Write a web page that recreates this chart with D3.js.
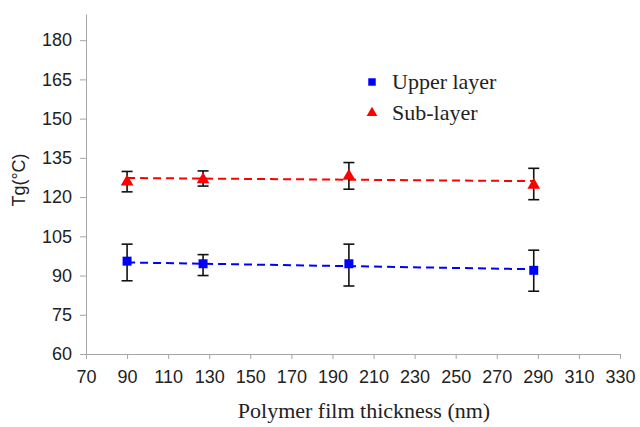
<!DOCTYPE html>
<html>
<head>
<meta charset="utf-8">
<script src="https://cdn.jsdelivr.net/npm/d3@7"></script>
<style>
  body { margin: 0; background: #fff; }
  .axis path, .axis line { stroke: #a6a6a6; }
  .axis text { font-family: "Liberation Sans", Arial, sans-serif; font-size: 18px; fill: #222; }
</style>
</head>
<body>
<script>
// thickness (nm)
var thickness = [90, 127, 198, 288];
// upper layer Tg and error bar ends
var upperTg   = [95.5, 94.5, 94.5, 92.0];
var upperHigh = [102, 98, 102, 99.7];
var upperLow  = [88, 90, 86, 84];
// sub-layer Tg and error bar ends
var subTg   = [125.8, 126.7, 128.0, 124.6];
var subHigh = [129.8, 130.0, 133.2, 131.0];
var subLow  = [122.0, 124.2, 123.0, 119.0];
// dashed trend lines, value at first and last thickness
var trendX     = [90, 288];
var upperTrend = [95.0, 92.4];
var subTrend   = [127.3, 126.1];

var xTicks = [70, 90, 110, 130, 150, 170, 190, 210, 230, 250, 270, 290, 310, 330];
var yTicks = [60, 75, 90, 105, 120, 135, 150, 165, 180];

var W = 640, H = 427;
var svg = d3.select("body").append("svg")
  .attr("width", W)
  .attr("height", H);

// setup scales
var x = d3.scaleLinear().domain([70, 330]).range([86, 620]);
var y = d3.scaleLinear().domain([60, 190]).range([354, 14]);

// x-axis
svg.append("g")
  .attr("class", "axis")
  .attr("transform", "translate(0," + y(60) + ")")
  .call(d3.axisBottom(x).tickValues(xTicks).tickSize(5).tickSizeOuter(0).tickPadding(11));

// y-axis
svg.append("g")
  .attr("class", "axis")
  .attr("transform", "translate(" + x(70) + ",0)")
  .call(d3.axisLeft(y).tickValues(yTicks).tickSize(6).tickSizeOuter(0).tickPadding(8));

// axis labels
svg.append("text")
  .attr("x", 364)
  .attr("y", 418)
  .style("text-anchor", "middle")
  .style("font-family", "'Liberation Serif', 'Times New Roman', serif")
  .style("font-size", "22px")
  .style("fill", "#222")
  .text("Polymer film thickness (nm)");

svg.append("text")
  .attr("transform", "translate(25,180) rotate(-90)")
  .style("text-anchor", "middle")
  .style("font-family", "'Liberation Sans', Arial, sans-serif")
  .style("font-size", "18px")
  .style("fill", "#222")
  .text("Tg(°C)");

var series = [
  { name: "Upper layer", color: "#0000ff", tg: upperTg, hi: upperHigh, lo: upperLow, trend: upperTrend, shape: d3.symbolSquare, size: 81 },
  { name: "Sub-layer",   color: "#ff0000", tg: subTg,   hi: subHigh,   lo: subLow,   trend: subTrend,   shape: d3.symbolTriangle, size: 70 }
];

var line = d3.line()
  .x(function(d) { return x(d[0]); })
  .y(function(d) { return y(d[1]); });

series.forEach(function(s) {
  // trend line
  svg.append("path")
    .datum(trendX.map(function(t, i) { return [t, s.trend[i]]; }))
    .attr("d", line)
    .attr("fill", "none")
    .attr("stroke", s.color)
    .attr("stroke-width", 2)
    .attr("stroke-dasharray", "8,5");

  var pts = thickness.map(function(t, i) { return { x: t, tg: s.tg[i], hi: s.hi[i], lo: s.lo[i] }; });

  // error bars
  var eb = svg.selectAll(null).data(pts).enter().append("g")
    .attr("stroke", "#111")
    .attr("stroke-width", 1.6);
  eb.append("line")
    .attr("x1", function(d) { return x(d.x); })
    .attr("x2", function(d) { return x(d.x); })
    .attr("y1", function(d) { return y(d.hi); })
    .attr("y2", function(d) { return y(d.lo); });
  eb.append("line")
    .attr("x1", function(d) { return x(d.x) - 5.5; })
    .attr("x2", function(d) { return x(d.x) + 5.5; })
    .attr("y1", function(d) { return y(d.hi); })
    .attr("y2", function(d) { return y(d.hi); });
  eb.append("line")
    .attr("x1", function(d) { return x(d.x) - 5.5; })
    .attr("x2", function(d) { return x(d.x) + 5.5; })
    .attr("y1", function(d) { return y(d.lo); })
    .attr("y2", function(d) { return y(d.lo); });

  // markers
  svg.selectAll(null).data(pts).enter().append("path")
    .attr("d", d3.symbol().type(s.shape).size(s.size))
    .attr("transform", function(d) { return "translate(" + x(d.x) + "," + y(d.tg) + ")"; })
    .attr("fill", s.color);
});

// legend
var legend = svg.selectAll(".legend").data(series).enter().append("g")
  .attr("class", "legend")
  .attr("transform", function(d, i) { return "translate(372," + (82 + i * 31) + ")"; });

legend.append("path")
  .attr("d", function(d) { return d3.symbol().type(d.shape).size(d.shape === d3.symbolSquare ? 56 : 50)(); })
  .attr("fill", function(d) { return d.color; });

legend.append("text")
  .attr("x", 20)
  .attr("y", 7)
  .style("font-family", "'Liberation Serif', 'Times New Roman', serif")
  .style("font-size", "22px")
  .style("fill", "#222")
  .text(function(d) { return d.name; });
</script>
</body>
</html>
